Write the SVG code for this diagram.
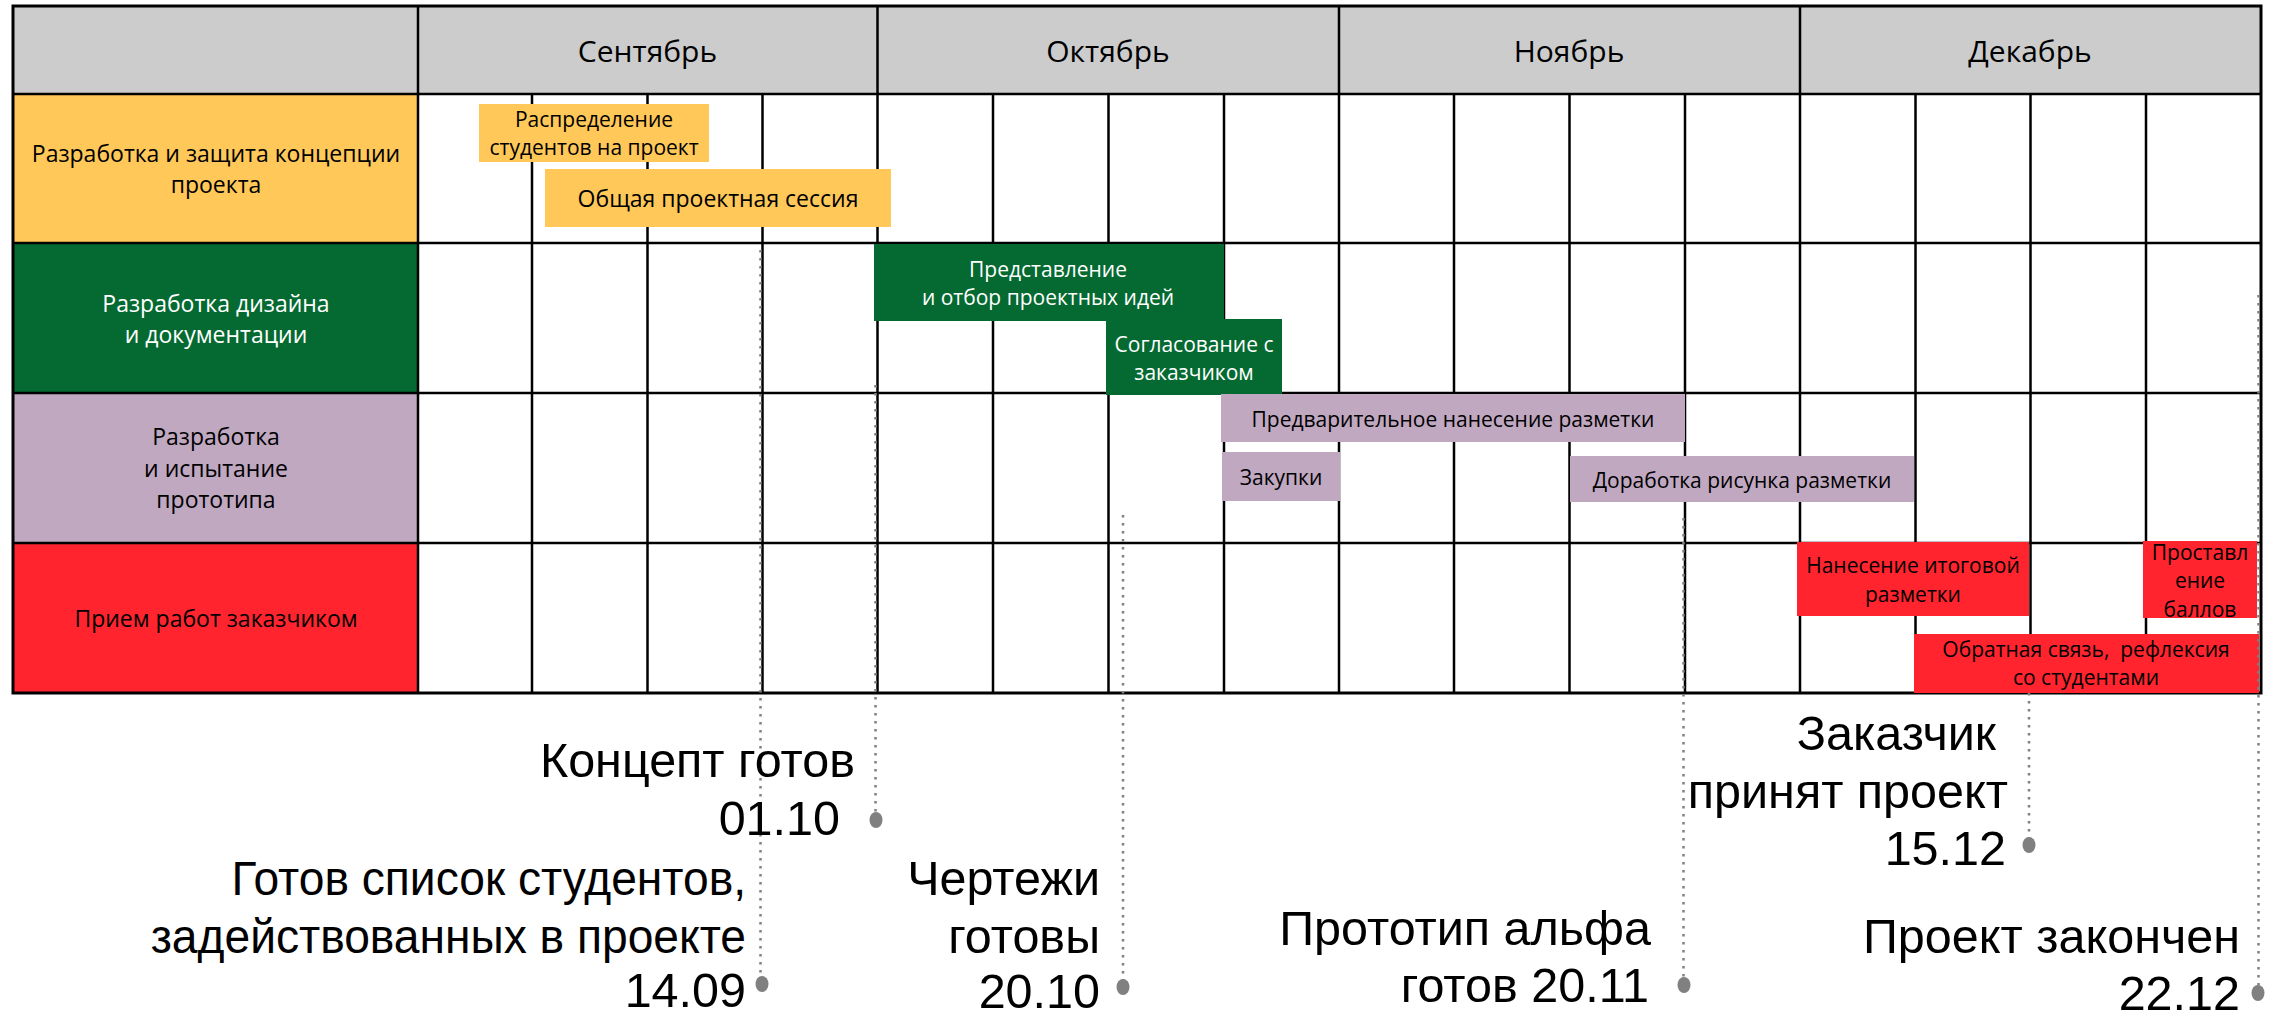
<svg xmlns="http://www.w3.org/2000/svg" width="2285" height="1017" viewBox="0 0 2285 1017">
<style>
.t{font-family:"Open Sans","Liberation Sans",sans-serif;font-size:21px;fill:#000;text-anchor:middle}
.l{font-size:23px}
.w{fill:#fff}
.m{font-family:"Open Sans","Liberation Sans",sans-serif;font-size:30px;fill:#000;text-anchor:middle}
.ms{font-family:"Liberation Sans",Arial,sans-serif;font-size:48.5px;fill:#000;text-anchor:end}
.g{stroke:#000;stroke-width:2.5;fill:none}
.lead{stroke:#808080;stroke-width:2.5;stroke-dasharray:2.5 5.5;fill:none}
.dot{fill:#808080}
.y{fill:#FFC858}.gr{fill:#046A31}.p{fill:#C0A8C0}.r{fill:#FF242E}
</style>
<rect x="0" y="0" width="2285" height="1017" fill="#fff"/>
<g id="grid">
<rect x="13" y="6" width="2248" height="88" fill="#CCCCCC"/>
<rect id="row1-bg" class="y" x="13" y="94" width="405" height="149"/>
<rect id="row2-bg" class="gr" x="13" y="243" width="405" height="150"/>
<rect id="row3-bg" class="p" x="13" y="393" width="405" height="150"/>
<rect id="row4-bg" class="r" x="13" y="543" width="405" height="150"/>
<path class="g" d="M13 94H2261M13 243H2261M13 393H2261M13 543H2261M418 6V693M877.5 6V693M1339 6V693M1800 6V693M532 94V693M647.5 94V693M762.5 94V693M993 94V693M1108.5 94V693M1224 94V693M1454 94V693M1569.5 94V693M1685 94V693M1915.5 94V693M2030.5 94V693M2146 94V693"/>
<rect x="13" y="6" width="2248" height="687" fill="none" stroke="#000" stroke-width="3"/>
<text class="m" x="647.5" y="62">Сентябрь</text>
<text class="m" x="1108" y="62">Октябрь</text>
<text class="m" x="1569" y="62">Ноябрь</text>
<text class="m" x="2030" y="62">Декабрь</text>
</g>
<g id="row-labels">
<g id="lane1"><text class="t l" x="216" y="162">Разработка и защита концепции</text><text class="t l" x="216" y="193">проекта</text></g>
<g id="lane2"><text class="t l w" x="216" y="312">Разработка дизайна</text><text class="t l w" x="216" y="343">и документации</text></g>
<g id="lane3"><text class="t l" x="216" y="445">Разработка</text><text class="t l" x="216" y="477">и испытание</text><text class="t l" x="216" y="508">прототипа</text></g>
<g id="lane4"><text class="t l" x="216" y="627">Прием работ заказчиком</text></g>
</g>
<g id="bars">
<g id="task-raspredelenie"><rect class="y" x="479" y="104" width="230" height="58"/><text class="t" x="594" y="127" font-size="21.5">Распределение</text><text class="t" x="594" y="155" font-size="19">студентов на проект</text></g>
<g id="task-sessiya"><rect class="y" x="545" y="169" width="346" height="58"/><text class="t l" x="718" y="207">Общая проектная сессия</text></g>
<g id="task-predstavlenie"><rect class="gr" x="874" y="244" width="350" height="77"/><text class="t w" x="1048" y="277">Представление</text><text class="t w" x="1048" y="305">и отбор проектных идей</text></g>
<g id="task-soglasovanie"><rect class="gr" x="1106" y="319" width="176" height="76"/><text class="t w" x="1194" y="352">Согласование с</text><text class="t w" x="1194" y="380">заказчиком</text></g>
<g id="task-predvaritelnoe"><rect class="p" x="1221" y="394" width="464" height="48"/><text class="t" x="1453" y="427">Предварительное нанесение разметки</text></g>
<g id="task-zakupki"><rect class="p" x="1222" y="452" width="118" height="49"/><text class="t" x="1281" y="485">Закупки</text></g>
<g id="task-dorabotka"><rect class="p" x="1570" y="456" width="344" height="46"/><text class="t" x="1742" y="488">Доработка рисунка разметки</text></g>
<g id="task-nanesenie"><rect class="r" x="1797" y="542" width="232" height="74"/><text class="t" x="1913" y="573">Нанесение итоговой</text><text class="t" x="1913" y="602">разметки</text></g>
<g id="task-ballov"><rect class="r" x="2143" y="541" width="114" height="77"/><text class="t" x="2200" y="560">Проставл</text><text class="t" x="2200" y="588">ение</text><text class="t" x="2200" y="617">баллов</text></g>
<g id="task-obratnaya"><rect class="r" x="1914" y="634" width="345" height="59"/><text class="t" x="2086" y="657" xml:space="preserve">Обратная связь,  рефлексия</text><text class="t" x="2086" y="685">со студентами</text></g>
</g>
<g id="connectors">
<path class="lead" d="M760.5 250V985"/>
<path class="lead" d="M875.5 385V820"/>
<path class="lead" d="M1123 515V987"/>
<path class="lead" d="M1683.5 518V985"/>
<path class="lead" d="M2029 693V845"/>
<path class="lead" d="M2258.5 295V993"/>
</g>
<g id="milestones">
<g id="ms-1409"><ellipse class="dot" cx="762" cy="984" rx="6.5" ry="8"/><g transform="translate(746 0) scale(0.952 1) translate(-746 0)"><text class="ms" x="746" y="895">Готов список студентов,</text><text class="ms" x="746" y="953">задействованных в проекте</text></g><text class="ms" x="746" y="1007">14.09</text></g>
<g id="ms-0110"><ellipse class="dot" cx="876" cy="820" rx="6.5" ry="8"/><text class="ms" x="855" y="777">Концепт готов</text><text class="ms" x="840" y="835">01.10</text></g>
<g id="ms-2010"><ellipse class="dot" cx="1123" cy="987" rx="6.5" ry="8"/><text class="ms" x="1100" y="895">Чертежи</text><text class="ms" x="1100" y="953">готовы</text><text class="ms" x="1100" y="1008">20.10</text></g>
<g id="ms-2011"><ellipse class="dot" cx="1684" cy="985" rx="6.5" ry="8"/><text class="ms" x="1651" y="945">Прототип альфа</text><text class="ms" x="1649" y="1002">готов 20.11</text></g>
<g id="ms-1512"><ellipse class="dot" cx="2029" cy="845" rx="6.5" ry="8"/><text class="ms" x="1996" y="750">Заказчик</text><text class="ms" x="2008" y="808">принят проект</text><text class="ms" x="2006" y="865">15.12</text></g>
<g id="ms-2212"><ellipse class="dot" cx="2258" cy="993" rx="6.5" ry="8"/><text class="ms" x="2240" y="953">Проект закончен</text><text class="ms" x="2240" y="1010">22.12</text></g>
</g>
</svg>
